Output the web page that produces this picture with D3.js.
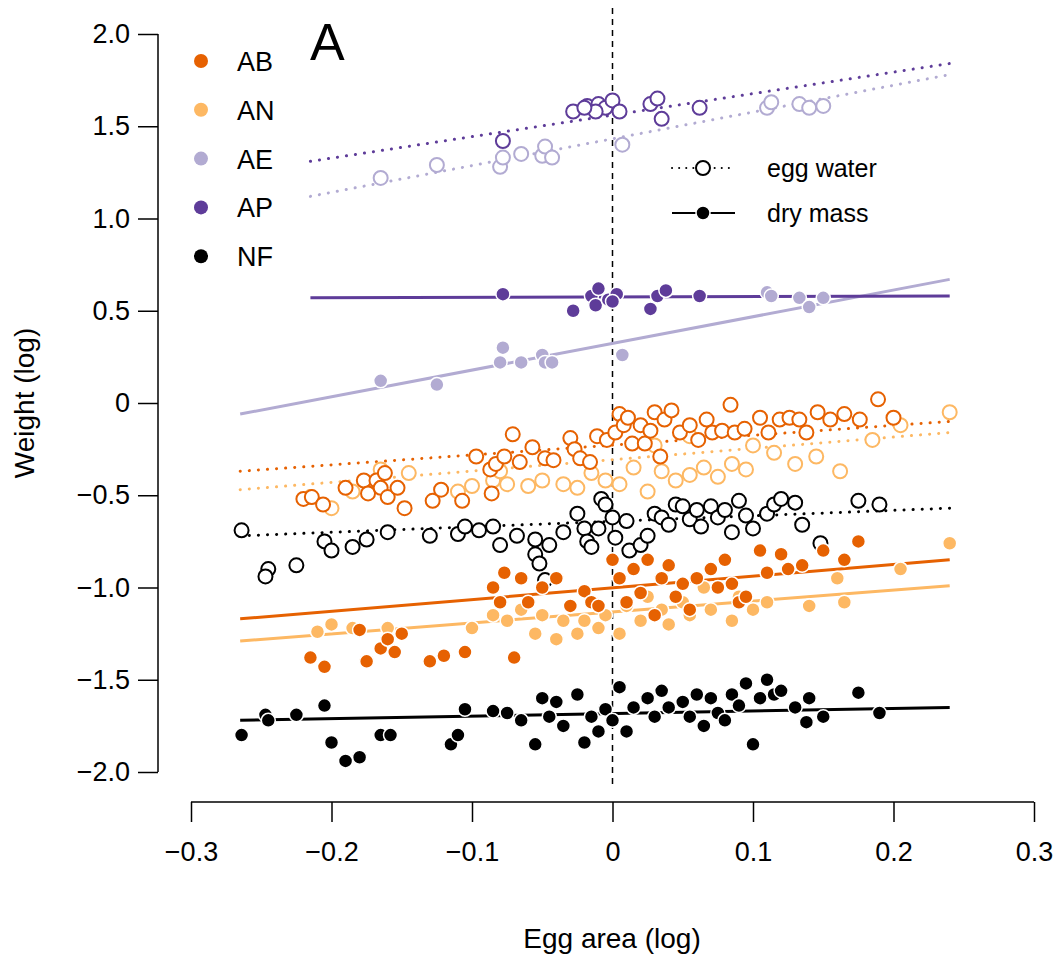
<!DOCTYPE html>
<html><head><meta charset="utf-8">
<script src="https://cdn.jsdelivr.net/npm/d3@7"></script>
<style>body{margin:0;background:#fff}text{font-family:"Liberation Sans",Arial,sans-serif}</style>
</head><body><svg id="c" width="1063" height="957"></svg>
<script>
const groups=["AB","AN","AE","AP","NF"];
const colors=["#e66101","#fdb863","#b2abd2","#5e3c99","#000000"];
const xTicks=[-0.3,-0.2,-0.1,0,0.1,0.2,0.3];
const yTicks=[-2,-1.5,-1,-0.5,0,0.5,1,1.5,2];
// fitted lines [x1,y1,x2,y2]
const waterLines={AB:[-0.265,-0.37,0.24,-0.10],AN:[-0.265,-0.47,0.24,-0.16],AE:[-0.215,1.12,0.24,1.78],AP:[-0.215,1.31,0.24,1.84],NF:[-0.265,-0.72,0.24,-0.57]};
const dryLines={AB:[-0.265,-1.17,0.24,-0.85],AN:[-0.265,-1.29,0.24,-0.99],AE:[-0.265,-0.06,0.24,0.67],AP:[-0.215,0.57,0.24,0.58],NF:[-0.265,-1.72,0.24,-1.65]};
const waterAP=[[-0.078,1.42],[-0.028,1.58],[-0.018,1.61],[-0.01,1.62],[-0.005,1.6],[-0.012,1.58],[0.0,1.64],[0.005,1.58],[0.027,1.62],[0.032,1.65],[0.035,1.54],[0.062,1.6],[-0.02,1.6]];
const dryAP=[[-0.078,0.59],[-0.028,0.5],[-0.015,0.58],[-0.01,0.62],[-0.012,0.53],[-0.003,0.56],[0.003,0.59],[0.027,0.51],[0.032,0.58],[0.038,0.61],[0.062,0.58],[0.0,0.55]];
const waterAE=[[-0.165,1.22],[-0.125,1.29],[-0.08,1.28],[-0.078,1.33],[-0.065,1.35],[-0.05,1.34],[-0.048,1.39],[-0.043,1.33],[0.007,1.4],[0.11,1.6],[0.113,1.63],[0.133,1.62],[0.14,1.6],[0.15,1.61]];
const dryAE=[[-0.165,0.12],[-0.125,0.1],[-0.08,0.22],[-0.078,0.3],[-0.065,0.22],[-0.05,0.26],[-0.048,0.22],[-0.043,0.22],[0.007,0.26],[0.11,0.6],[0.113,0.58],[0.133,0.57],[0.14,0.52],[0.15,0.57]];
const waterAB=[[-0.22,-0.52],[-0.214,-0.51],[-0.206,-0.55],[-0.19,-0.46],[-0.177,-0.42],[-0.174,-0.49],[-0.168,-0.42],[-0.165,-0.46],[-0.162,-0.38],[-0.16,-0.51],[-0.153,-0.46],[-0.148,-0.57],[-0.128,-0.53],[-0.122,-0.47],[-0.107,-0.53],[-0.097,-0.29],[-0.087,-0.36],[-0.086,-0.49],[-0.083,-0.33],[-0.077,-0.29],[-0.071,-0.17],[-0.066,-0.32],[-0.057,-0.24],[-0.048,-0.3],[-0.042,-0.31],[-0.03,-0.19],[-0.027,-0.25],[-0.023,-0.3],[-0.016,-0.32],[-0.011,-0.18],[-0.004,-0.2],[0.002,-0.16],[0.005,-0.06],[0.008,-0.12],[0.011,-0.08],[0.014,-0.22],[0.02,-0.12],[0.023,-0.22],[0.027,-0.15],[0.03,-0.05],[0.034,-0.29],[0.037,-0.09],[0.042,-0.04],[0.048,-0.16],[0.055,-0.12],[0.061,-0.2],[0.067,-0.09],[0.071,-0.16],[0.078,-0.15],[0.084,-0.01],[0.087,-0.16],[0.094,-0.14],[0.105,-0.08],[0.111,-0.16],[0.119,-0.09],[0.126,-0.08],[0.133,-0.09],[0.138,-0.16],[0.146,-0.05],[0.155,-0.09],[0.165,-0.06],[0.176,-0.09],[0.189,0.02],[0.2,-0.08]];
const waterAN=[[-0.215,-0.51],[-0.2,-0.57],[-0.185,-0.48],[-0.165,-0.36],[-0.145,-0.38],[-0.11,-0.48],[-0.1,-0.45],[-0.085,-0.42],[-0.08,-0.37],[-0.075,-0.44],[-0.06,-0.45],[-0.05,-0.42],[-0.035,-0.44],[-0.025,-0.46],[-0.015,-0.38],[-0.005,-0.42],[0.005,-0.44],[0.015,-0.35],[0.025,-0.48],[0.035,-0.37],[0.045,-0.42],[0.055,-0.39],[0.065,-0.35],[0.075,-0.4],[0.085,-0.33],[0.095,-0.36],[0.115,-0.27],[0.13,-0.33],[0.145,-0.29],[0.162,-0.37],[0.205,-0.12],[0.24,-0.05],[0.185,-0.2],[0.1,-0.23],[0.055,-0.18],[0.03,-0.23]];
const waterNF=[[-0.264,-0.69],[-0.245,-0.9],[-0.247,-0.94],[-0.225,-0.88],[-0.205,-0.75],[-0.2,-0.8],[-0.185,-0.78],[-0.175,-0.74],[-0.16,-0.7],[-0.13,-0.72],[-0.11,-0.71],[-0.105,-0.67],[-0.095,-0.69],[-0.085,-0.67],[-0.08,-0.77],[-0.068,-0.72],[-0.055,-0.74],[-0.055,-0.82],[-0.052,-0.87],[-0.048,-0.96],[-0.045,-0.77],[-0.035,-0.7],[-0.025,-0.6],[-0.02,-0.68],[-0.018,-0.75],[-0.015,-0.78],[-0.008,-0.52],[-0.005,-0.55],[-0.01,-0.68],[0.0,-0.62],[0.002,-0.73],[0.01,-0.64],[0.012,-0.8],[0.02,-0.77],[0.025,-0.72],[0.03,-0.6],[0.035,-0.62],[0.04,-0.66],[0.045,-0.55],[0.05,-0.56],[0.055,-0.63],[0.06,-0.58],[0.063,-0.67],[0.07,-0.56],[0.075,-0.62],[0.08,-0.58],[0.085,-0.7],[0.09,-0.53],[0.095,-0.61],[0.1,-0.68],[0.11,-0.6],[0.115,-0.55],[0.12,-0.52],[0.13,-0.54],[0.135,-0.66],[0.148,-0.76],[0.175,-0.53],[0.19,-0.55]];
const dryAB=[[-0.215,-1.38],[-0.205,-1.43],[-0.18,-1.23],[-0.175,-1.4],[-0.165,-1.33],[-0.16,-1.28],[-0.155,-1.35],[-0.15,-1.25],[-0.13,-1.4],[-0.12,-1.37],[-0.105,-1.35],[-0.085,-1.0],[-0.08,-1.08],[-0.077,-0.92],[-0.07,-1.38],[-0.065,-0.95],[-0.06,-1.08],[-0.05,-1.0],[-0.04,-0.95],[-0.03,-1.1],[-0.02,-1.02],[-0.015,-1.08],[-0.01,-1.1],[0.0,-0.85],[0.005,-0.95],[0.01,-1.08],[0.015,-0.9],[0.02,-1.03],[0.025,-0.85],[0.03,-1.15],[0.035,-0.95],[0.04,-0.88],[0.045,-1.05],[0.05,-0.98],[0.055,-1.12],[0.06,-0.95],[0.07,-0.9],[0.075,-1.0],[0.08,-0.85],[0.085,-0.98],[0.09,-1.08],[0.095,-1.05],[0.105,-0.8],[0.11,-0.92],[0.12,-0.82],[0.125,-0.9],[0.135,-0.88],[0.15,-0.8],[0.165,-0.85],[0.175,-0.75]];
const dryAN=[[-0.21,-1.24],[-0.2,-1.2],[-0.185,-1.22],[-0.175,-1.4],[-0.16,-1.22],[-0.1,-1.22],[-0.085,-1.15],[-0.075,-1.18],[-0.065,-1.12],[-0.055,-1.25],[-0.05,-1.15],[-0.04,-1.28],[-0.035,-1.18],[-0.025,-1.25],[-0.02,-1.18],[-0.01,-1.22],[-0.005,-1.15],[0.005,-1.25],[0.01,-1.1],[0.02,-1.18],[0.025,-1.05],[0.035,-1.12],[0.04,-1.2],[0.05,-1.08],[0.055,-1.15],[0.065,-1.0],[0.07,-1.12],[0.085,-1.18],[0.09,-1.05],[0.1,-1.12],[0.11,-1.08],[0.14,-1.1],[0.165,-1.08],[0.205,-0.9],[0.24,-0.76],[0.16,-0.95]];
const dryNF=[[-0.264,-1.8],[-0.247,-1.69],[-0.245,-1.72],[-0.225,-1.69],[-0.205,-1.64],[-0.2,-1.84],[-0.19,-1.94],[-0.18,-1.92],[-0.165,-1.8],[-0.158,-1.8],[-0.115,-1.85],[-0.11,-1.8],[-0.105,-1.66],[-0.085,-1.67],[-0.075,-1.68],[-0.065,-1.72],[-0.055,-1.85],[-0.05,-1.6],[-0.045,-1.7],[-0.04,-1.62],[-0.035,-1.75],[-0.025,-1.58],[-0.02,-1.84],[-0.015,-1.7],[-0.01,-1.78],[-0.005,-1.66],[0.0,-1.72],[0.005,-1.54],[0.01,-1.78],[0.015,-1.65],[0.025,-1.6],[0.03,-1.7],[0.035,-1.56],[0.04,-1.65],[0.05,-1.62],[0.055,-1.7],[0.06,-1.58],[0.065,-1.75],[0.07,-1.6],[0.075,-1.68],[0.08,-1.72],[0.085,-1.58],[0.09,-1.64],[0.095,-1.52],[0.1,-1.85],[0.105,-1.6],[0.11,-1.5],[0.115,-1.58],[0.12,-1.56],[0.13,-1.65],[0.138,-1.73],[0.14,-1.6],[0.15,-1.7],[0.175,-1.57],[0.19,-1.68]];
const water={AB:waterAB,AN:waterAN,AE:waterAE,AP:waterAP,NF:waterNF};
const dry={AB:dryAB,AN:dryAN,AE:dryAE,AP:dryAP,NF:dryNF};

const svg=d3.select("#c");
const x=d3.scaleLinear().domain([-0.3,0.3]).range([191,1034]);
const y=d3.scaleLinear().domain([-2,2]).range([772,34]);
const col=d3.scaleOrdinal().domain(groups).range(colors);
const fmt=d=>d===0?"0":d3.format(".1f")(d).replace("-","\u2013");

const yA=svg.append("g").attr("transform","translate(158,0)").call(d3.axisLeft(y).tickValues(yTicks).tickFormat(fmt).tickSize(20).tickPadding(8));
const xA=svg.append("g").attr("transform","translate(0,802)").call(d3.axisBottom(x).tickValues(xTicks).tickFormat(fmt).tickSize(20).tickPadding(20));
[yA,xA].forEach(a=>{a.selectAll("text").attr("font-size",27).attr("fill","#000");a.selectAll("line,path").attr("stroke","#000").attr("stroke-width",1.5);a.select(".domain").attr("d",null);});
yA.append("line").attr("x1",0).attr("x2",0).attr("y1",34).attr("y2",772).attr("stroke","#000").attr("stroke-width",1.5);
xA.append("line").attr("x1",191).attr("x2",1034).attr("y1",0).attr("y2",0).attr("stroke","#000").attr("stroke-width",1.5);
svg.append("text").attr("x",612).attr("y",948).attr("text-anchor","middle").attr("font-size",28).text("Egg area (log)");
svg.append("text").attr("transform","translate(34,403) rotate(-90)").attr("text-anchor","middle").attr("font-size",28).text("Weight (log)");
svg.append("text").attr("x",310).attr("y",60).attr("font-size",52).text("A");

svg.append("line").attr("x1",x(0)).attr("x2",x(0)).attr("y1",8).attr("y2",786).attr("stroke","#000").attr("stroke-width",1.5).attr("stroke-dasharray","6,5");

const order=["NF","AN","AB","AE","AP"];
order.forEach(g=>{
  const w=waterLines[g],dl=dryLines[g];
  svg.append("line").attr("x1",x(w[0])).attr("y1",y(w[1])).attr("x2",x(w[2])).attr("y2",y(w[3])).attr("stroke",col(g)).attr("stroke-width",3).attr("stroke-linecap","round").attr("stroke-dasharray","0.1,9");
  svg.append("line").attr("x1",x(dl[0])).attr("y1",y(dl[1])).attr("x2",x(dl[2])).attr("y2",y(dl[3])).attr("stroke",col(g)).attr("stroke-width",3);
});
order.forEach(g=>{
  svg.append("g").selectAll("circle").data(water[g]).join("circle").attr("cx",d=>x(d[0])).attr("cy",d=>y(d[1])).attr("r",7).attr("fill","#fff").attr("stroke",col(g)).attr("stroke-width",2);
  svg.append("g").selectAll("circle").data(dry[g]).join("circle").attr("cx",d=>x(d[0])).attr("cy",d=>y(d[1])).attr("r",7).attr("fill",col(g)).attr("stroke","#fff").attr("stroke-width",1.5);
});

const lg=svg.append("g");
groups.forEach((g,i)=>{
  lg.append("circle").attr("cx",201).attr("cy",61+i*48.8).attr("r",7).attr("fill",col(g));
  lg.append("text").attr("x",237).attr("y",61+i*48.8+10).attr("font-size",27).text(g);
});
lg.append("line").attr("x1",672).attr("x2",735).attr("y1",168).attr("y2",168).attr("stroke","#000").attr("stroke-width",2).attr("stroke-linecap","round").attr("stroke-dasharray","0.1,7");
lg.append("circle").attr("cx",703).attr("cy",168).attr("r",7).attr("fill","#fff").attr("stroke","#000").attr("stroke-width",2);
lg.append("text").attr("x",767).attr("y",177).attr("font-size",25).text("egg water");
lg.append("line").attr("x1",672).attr("x2",735).attr("y1",213).attr("y2",213).attr("stroke","#000").attr("stroke-width",2);
lg.append("circle").attr("cx",703).attr("cy",213).attr("r",7).attr("fill","#000").attr("stroke","#fff").attr("stroke-width",1.5);
lg.append("text").attr("x",767).attr("y",222).attr("font-size",25).text("dry mass");
</script></body></html>
